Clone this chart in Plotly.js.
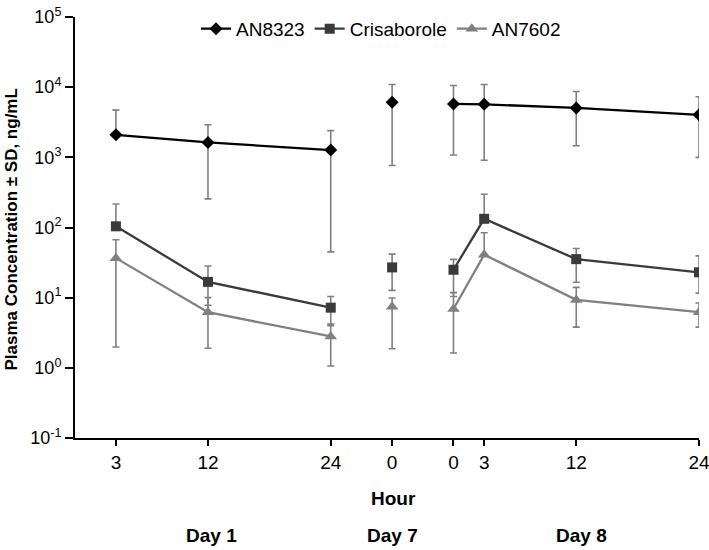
<!DOCTYPE html>
<html>
<head>
<meta charset="utf-8">
<script src="https://cdn.plot.ly/plotly-3.0.1.min.js"></script>
<style>html,body{margin:0;padding:0;background:#fff;}#chart{width:709px;height:550px;}</style>
</head>
<body>
<div id="chart"></div>
<script>
// ---- data ----
const days = ['Day 1','Day 1','Day 1','Day 7','Day 8','Day 8','Day 8','Day 8'];
const hours = [3, 12, 24, 0, 0, 3, 12, 24];
const hourLabels = ['3','12','24','0','0','3','12','24'];
const dayNames = ['Day 1','Day 7','Day 8'];
const seriesNames = ['AN8323','Crisaborole','AN7602'];

const an8323Mean  = [2090, 1630, 1270, 6100, 5770, 5700, 5060, 4040];
const an8323Upper = [4700, 2920, 2400, 10900, 10570, 10900, 8690, 7290];
const an8323Lower = [null, 256, 45, 764, 1077, 908, 1462, 1000];

const crisMean  = [104, 16.8, 7.2, 27.0, 25.0, 133, 35.4, 23.0];
const crisUpper = [216, 28.3, 10.4, 41.7, 35.1, 298, 50.1, 39.4];
const crisLower = [null, 7.8, 4.0, 12.7, 10.4, null, 16.6, 11.6];

const an7602Mean  = [36.6, 6.2, 2.8, 7.4, 6.9, 41, 9.3, 6.2];
const an7602Upper = [67, 10.0, 4.2, 9.9, 11.8, 84, 14, 8.4];
const an7602Lower = [1.98, 1.9, 1.06, 1.87, 1.63, null, 3.8, 3.8];

const yTickVals = [0.1, 1, 10, 100, 1000, 10000, 100000];
const yTickText = ['10<sup>-1</sup>','10<sup>0</sup>','10<sup>1</sup>','10<sup>2</sup>','10<sup>3</sup>','10<sup>4</sup>','10<sup>5</sup>'];

// ---- layout config: where each day starts on the hour axis ----
const dayOffset = {'Day 1': 0, 'Day 7': 30, 'Day 8': 36};
const xPos = hours.map((h, i) => dayOffset[days[i]] + h);

function build(mean, upper, lower) {
  const x = [], y = [], ep = [], em = [];
  for (let i = 0; i < mean.length; i++) {
    if (i > 0 && days[i] !== days[i - 1]) { x.push(null); y.push(null); ep.push(null); em.push(null); }
    x.push(xPos[i]); y.push(mean[i]);
    ep.push(upper[i] != null ? upper[i] - mean[i] : 0);
    em.push(lower[i] != null ? mean[i] - lower[i] : 0);
  }
  return {x, y, ep, em};
}

const styles = [
  {color: '#000000', symbol: 'diamond', size: 10},
  {color: '#3a3a3a', symbol: 'square', size: 10},
  {color: '#808080', symbol: 'triangle-up', size: 11}
];
const dataSets = [[an8323Mean, an8323Upper, an8323Lower], [crisMean, crisUpper, crisLower], [an7602Mean, an7602Upper, an7602Lower]];

const traces = dataSets.map((d, k) => {
  const b = build(d[0], d[1], d[2]);
  return {
    type: 'scatter', mode: 'lines+markers', name: seriesNames[k],
    x: b.x, y: b.y, connectgaps: false,
    line: {color: styles[k].color, width: 2.3},
    marker: {symbol: styles[k].symbol, size: styles[k].size, color: styles[k].color},
    error_y: {type: 'data', symmetric: false, array: b.ep, arrayminus: b.em, color: '#808080', thickness: 1.6, width: 3.5}
  };
});

const FONT = 'Liberation Sans, Arial, sans-serif';
const plotL = 75, plotR = 699, plotT = 10, plotB = 438;
const pw = plotR - plotL, ph = plotB - plotT;
const px2paperX = p => (p - plotL) / pw;
const px2paperY = p => (plotB - p) / ph;

const dayCenters = {'Day 1': 211, 'Day 7': 392, 'Day 8': 581};
const annotations = dayNames.map(n => ({
  text: '<b>' + n + '</b>', xref: 'paper', yref: 'paper',
  x: px2paperX(dayCenters[n]), y: px2paperY(537), xanchor: 'center', yanchor: 'middle',
  showarrow: false, font: {family: FONT, size: 19, color: '#000'}
}));
annotations.push({
  text: '<b>Hour</b>', xref: 'paper', yref: 'paper', x: px2paperX(393), y: px2paperY(499),
  xanchor: 'center', yanchor: 'middle', showarrow: false, font: {family: FONT, size: 19, color: '#000'}
});
annotations.push({
  text: '<b>Plasma Concentration ± SD, ng/mL</b>', xref: 'paper', yref: 'paper',
  x: px2paperX(11), y: px2paperY(226), xanchor: 'center', yanchor: 'middle', textangle: -90,
  showarrow: false, font: {family: FONT, size: 17, color: '#000'}
});

const layout = {
  width: 709, height: 550,
  margin: {l: plotL, r: 709 - plotR, t: plotT, b: 550 - plotB, pad: 0},
  paper_bgcolor: '#fff', plot_bgcolor: '#fff',
  font: {family: FONT, color: '#000'},
  showlegend: true,
  legend: {orientation: 'h', x: px2paperX(381), y: px2paperY(22), xanchor: 'center', yanchor: 'middle',
           font: {family: FONT, size: 19, color: '#000'}, bgcolor: 'rgba(0,0,0,0)', itemwidth: 30, tracegroupgap: 0},
  xaxis: {
    range: [-1, 60], tickmode: 'array', tickvals: xPos, ticktext: hourLabels,
    showgrid: false, zeroline: false, showline: true, linecolor: '#000', linewidth: 2,
    ticks: 'outside', ticklen: 6, tickwidth: 2, tickcolor: '#000', ticklabeloverflow: 'allow',
    tickfont: {family: FONT, size: 19, color: '#000'}
  },
  yaxis: {
    type: 'log', range: [-1, 5], tickmode: 'array', tickvals: yTickVals, ticktext: yTickText,
    showgrid: false, zeroline: false, showline: true, linecolor: '#000', linewidth: 2,
    ticks: 'outside', ticklen: 8, tickwidth: 2, tickcolor: '#000',
    tickfont: {family: FONT, size: 18, color: '#000'}
  },
  annotations: annotations
};

Plotly.newPlot('chart', traces, layout, {displayModeBar: false, staticPlot: true});
</script>
</body>
</html>
